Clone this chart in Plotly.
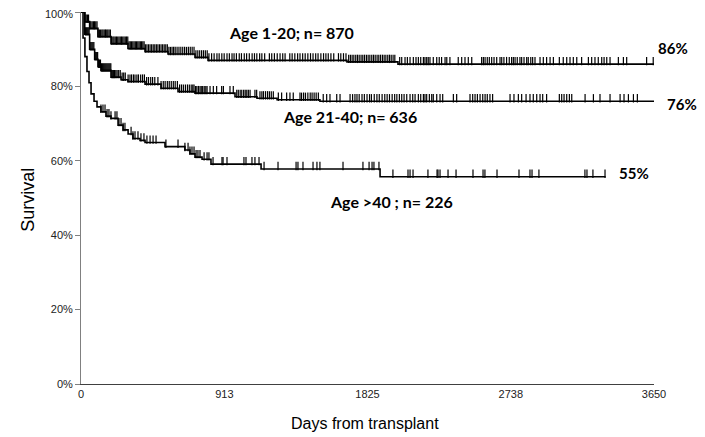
import numpy as np
import plotly.graph_objects as go

# ---- Kaplan-Meier step data (days, survival %) ----
g1_times = [0, 24, 55, 108, 191, 299, 408, 554, 726, 809, 1694, 2019, 3650]
g1_surv = [100, 97.4, 95.6, 93.4, 91.5, 90.2, 89.4, 88.7, 87.8, 87.0, 86.6, 86.0, 86.0]

g2_times = [0, 24, 55, 87, 108, 127, 191, 255, 299, 408, 510, 618, 726, 981, 1121, 1249, 1522, 3650]
g2_surv = [100, 94.0, 90.0, 87.3, 85.3, 84.3, 82.5, 81.8, 81.3, 80.6, 79.5, 78.6, 78.2, 77.2, 76.8, 76.4, 76.0, 76.0]

g3_times = [0, 13, 25, 38, 51, 64, 83, 102, 127, 159, 191, 236, 268, 300, 331, 376, 408, 535, 662,
            694, 726, 771, 828, 1147, 1905, 3342]
g3_surv = [100, 93, 88, 84, 81, 78, 76, 74.5, 73.2, 72, 71.4, 69.6, 68.3, 67.2, 66, 65.5, 64.9, 63.8, 62.9,
           61.9, 61.0, 60.4, 59.1, 57.8, 55.7, 55.7]

# ---- censoring times (days) ----
g1_censor = [25, 33, 41, 48, 56, 63, 71, 79, 86, 94, 102, 109, 117, 125, 133, 140, 148, 156, 164, 171,
             179, 187, 195, 203, 210, 218, 226, 234, 242, 250, 258, 266, 274, 282, 290, 298, 306, 314,
             322, 330, 338, 346, 354, 362, 370, 378, 386, 394, 402, 410, 420, 430, 440, 450, 460, 470,
             480, 490, 500, 510, 520, 530, 540, 550, 560, 570, 580, 590, 600, 612, 624, 636, 648, 660,
             672, 684, 696, 708, 720, 732, 744, 756, 768, 780, 792, 804,
             815, 832, 848, 866, 880, 897, 912, 930, 945, 962, 975, 990, 1008, 1022, 1040, 1055, 1072,
             1090, 1105, 1120, 1138, 1152, 1170, 1200, 1215, 1232, 1250, 1268, 1285, 1300, 1330, 1345,
             1362, 1380, 1395, 1412, 1428, 1445, 1462, 1478, 1495, 1510, 1528, 1545, 1560, 1575, 1592,
             1610, 1640, 1655, 1672, 1688,
             1705, 1716, 1727, 1738, 1750, 1761, 1772, 1784, 1795, 1806, 1818, 1829, 1840, 1852, 1863,
             1874, 1886, 1897, 1908, 1920, 1931, 1942, 1954, 1965, 1976, 1988, 1999, 2030,
             2043, 2064, 2079, 2096, 2117, 2134, 2149, 2164, 2181, 2191, 2202, 2212, 2223, 2244, 2266,
             2282, 2297, 2319, 2330, 2350, 2403, 2425, 2446, 2467, 2489, 2552, 2563, 2574, 2588, 2601,
             2616, 2631, 2648, 2669, 2680, 2694, 2711, 2728, 2743, 2754, 2765, 2779, 2796, 2807, 2822,
             2839, 2849, 2865, 2877, 2892, 2924, 2945, 2966, 2988, 3009, 3047, 3072, 3094, 3115, 3136,
             3158, 3189, 3232, 3253, 3274, 3295, 3317, 3332, 3349, 3370, 3423, 3455, 3476, 3603, 3645]

g2_censor = [22, 28, 34, 40, 46, 52, 58, 64, 70, 76, 82, 88, 94, 100, 106, 112, 118, 124, 130, 136,
             142, 148, 154, 160, 166, 172, 178, 184, 190, 196, 202, 208, 214,
             222, 230, 240, 250, 262, 272, 282, 300, 312, 322, 334, 344, 356, 366, 380, 392, 404,
             418, 430, 444, 456, 470, 490, 510, 524, 536, 550, 562, 575, 588, 600, 614, 628, 640,
             652, 665, 678, 690,
             702, 712, 720, 730, 738, 748, 758, 766, 775, 785, 795, 803, 822, 843, 864, 896, 907, 949,
             970, 992, 1002, 1014, 1024, 1036, 1046, 1056, 1066, 1077, 1108, 1119, 1140, 1152, 1162,
             1175, 1188, 1200, 1212, 1225, 1257, 1278, 1310, 1331, 1352, 1395, 1405, 1418, 1430, 1445,
             1460, 1472, 1485, 1498, 1512, 1543, 1565, 1586, 1629, 1650, 1714, 1730, 1745, 1758, 1772,
             1790, 1805, 1822, 1838, 1850, 1868, 1885, 1900, 1918, 1935, 1950, 1965, 1982, 1998, 2012,
             2028, 2043, 2058, 2075, 2096, 2113, 2128, 2149, 2164, 2181, 2191, 2202, 2219, 2234, 2244,
             2266, 2287, 2304, 2372, 2393, 2478, 2495, 2510, 2525, 2542, 2559, 2574, 2588, 2605, 2622,
             2733, 2758, 2786, 2807, 2835, 2860, 2881, 2903, 2924, 2941, 2966, 3047, 3062, 3077, 3094,
             3111, 3126, 3211, 3264, 3306, 3370, 3434, 3459, 3487, 3519, 3544]

g3_censor = [127, 140, 153, 166, 178, 191, 217, 229, 242, 255, 268, 280, 319, 331, 344, 363, 382, 401,
             420, 440, 459, 478, 541, 618, 662, 682, 694, 707, 720, 733, 745, 758, 784, 803, 815, 841,
             898, 905, 930, 1038, 1051, 1089, 1108, 1134, 1166, 1255, 1370, 1382, 1414, 1478, 1503,
             1522, 1669, 1796, 1835, 1854, 1866, 1898, 1987, 2083, 2096, 2115, 2210, 2268, 2274, 2287,
             2338, 2389, 2497, 2561, 2573, 2650, 2790, 2860, 2873, 2917, 3210, 3223, 3261, 3338]

x_tick_vals = [0, 913, 1825, 2738, 3650]
y_tick_vals = [0, 20, 40, 60, 80, 100]

group_labels = ["Age 1-20; n= 870", "Age 21-40; n= 636", "Age >40 ; n= 226"]
end_labels = ["86%", "76%", "55%"]


def step_value(times, surv, t):
    idx = np.searchsorted(np.array(times), t, side="right") - 1
    return np.array(surv)[idx]


fig = go.Figure()
TICK_OFFSET = 0.8  # ticks sit on top of the line

for times, surv, cens in [(g1_times, g1_surv, g1_censor),
                          (g2_times, g2_surv, g2_censor),
                          (g3_times, g3_surv, g3_censor)]:
    fig.add_trace(go.Scatter(x=times, y=surv, mode="lines", line_shape="hv",
                             line=dict(color="black", width=1.6), showlegend=False,
                             hoverinfo="skip", cliponaxis=False))
    cy = step_value(times, surv, np.array(cens)) + TICK_OFFSET
    fig.add_trace(go.Scatter(x=cens, y=cy, mode="markers",
                             marker=dict(symbol="line-ns", size=6, color="black",
                                         line=dict(color="black", width=1.2)),
                             showlegend=False, hoverinfo="skip", cliponaxis=False))

label_font = dict(family="Lato, Open Sans, sans-serif", size=16, color="black")
ann = [
    (1344, 94.4, group_labels[0]),
    (1714, 72.0, group_labels[1]),
    (1975, 49.0, group_labels[2]),
]
for x, y, t in ann:
    fig.add_annotation(x=x, y=y, text="<b>%s</b>" % t, showarrow=False, font=label_font,
                       xanchor="center", yanchor="middle")

end_font = dict(family="Lato, Open Sans, sans-serif", size=15, color="black")
end_pos = [(1.0035, 0.903, end_labels[0]), (1.02, 0.753, end_labels[1]), (0.935, 0.567, end_labels[2])]
for x, y, t in end_pos:
    fig.add_annotation(x=x, y=y, xref="paper", yref="paper", text="<b>%s</b>" % t,
                       showarrow=False, font=end_font, xanchor="left", yanchor="middle")

# axis titles
fig.add_annotation(x=-0.0925, y=0.495, xref="paper", yref="paper", text="Survival", textangle=-90,
                   showarrow=False, font=dict(family="Liberation Sans, Arial, sans-serif", size=18, color="black"),
                   xanchor="center", yanchor="middle")
fig.add_annotation(x=0.496, y=-0.105, xref="paper", yref="paper", text="Days from transplant",
                   showarrow=False, font=dict(family="Liberation Sans, Arial, sans-serif", size=16, color="black"),
                   xanchor="center", yanchor="middle")

# top tick label drawn as annotation nudged down so it is not cut by the page edge
fig.add_annotation(x=0, y=y_tick_vals[-1], xref="paper", yref="y", text="%d%%" % y_tick_vals[-1],
                   showarrow=False, xanchor="right", yanchor="middle", xshift=-6, yshift=-2,
                   font=dict(family="Liberation Sans, Arial, sans-serif", size=11, color="#222"))

# page body has an 8px margin, so the figure is 8px smaller and the margins are shifted
fig.update_layout(
    template="none",
    width=697, height=429,
    margin=dict(l=73, r=51, t=4, b=53, autoexpand=False),
    plot_bgcolor="white", paper_bgcolor="white",
    font=dict(family="Liberation Sans, Arial, sans-serif", color="#222"),
)
fig.update_xaxes(range=[0, 3650], tickvals=x_tick_vals, ticktext=[str(v) for v in x_tick_vals],
                 showgrid=False, zeroline=False, showline=True, linecolor="#404040", linewidth=1.2,
                 ticks="", tickfont=dict(size=11, color="#222"), automargin=False,
                 ticklabeloverflow="allow")
fig.update_yaxes(range=[0, 100], tickvals=y_tick_vals,
                 ticktext=["%d%%" % v for v in y_tick_vals[:-1]] + [""],
                 showgrid=False, zeroline=False, showline=True, linecolor="#808080", linewidth=1,
                 ticks="outside", ticklen=5, tickcolor="#808080", tickfont=dict(size=11, color="#222"),
                 automargin=False, ticklabeloverflow="allow")

fig.write_html("out.html")
